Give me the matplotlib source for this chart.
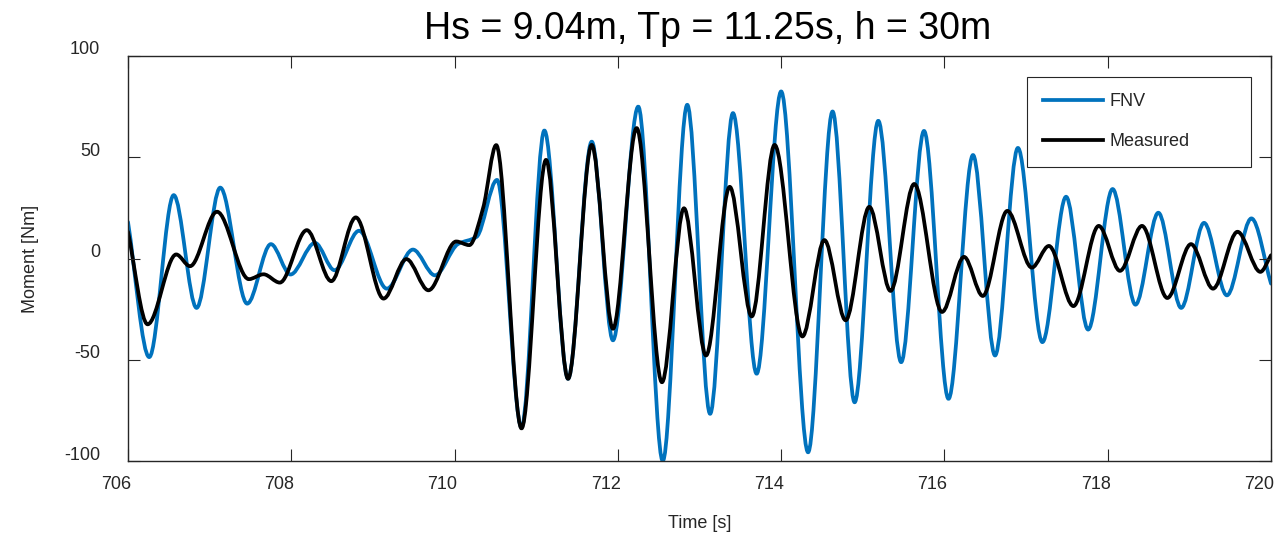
import numpy as np
import matplotlib
matplotlib.use("Agg")
import matplotlib.pyplot as plt
from matplotlib.path import Path
from matplotlib.patches import PathPatch
from matplotlib.lines import Line2D
from matplotlib.transforms import ScaledTranslation

plt.rcParams["axes.unicode_minus"] = False

# peaks / troughs (time [s], moment [Nm])
fnv_t = [706.00, 706.26, 706.56, 706.84, 707.13, 707.46, 707.75, 707.99, 708.29, 708.53,
         708.83, 709.17, 709.49, 709.76, 710.04, 710.27, 710.52, 710.82, 711.10, 711.39,
         711.68, 711.94, 712.25, 712.55, 712.85, 713.13, 713.41, 713.70, 714.00, 714.33,
         714.63, 714.90, 715.19, 715.47, 715.75, 716.05, 716.35, 716.62, 716.90, 717.20,
         717.49, 717.76, 718.06, 718.34, 718.62, 718.90, 719.18, 719.46, 719.76, 720.00]
fnv_v = [18.0, -48.7, 31.3, -24.4, 35.0, -22.3, 7.1, -7.9, 7.7, -5.8,
         13.7, -14.9, 4.4, -8.3, 7.1, 10.7, 38.8, -83.4, 63.2, -59.4,
         57.7, -40.4, 75.0, -100.0, 75.9, -76.7, 71.8, -56.9, 82.5, -95.7,
         72.6, -71.0, 68.0, -51.2, 63.0, -69.3, 51.1, -47.9, 54.6, -41.3,
         30.5, -35.1, 34.3, -22.8, 22.6, -24.4, 17.6, -18.2, 19.8, -12.4]

meas_t = [706.00, 706.24, 706.59, 706.76, 707.09, 707.48, 707.66, 707.86, 708.19, 708.49,
          708.79, 709.13, 709.41, 709.68, 710.02, 710.18, 710.35, 710.51, 710.82, 711.12,
          711.39, 711.68, 711.94, 712.23, 712.54, 712.81, 713.08, 713.37, 713.64, 713.92,
          714.26, 714.53, 714.79, 715.08, 715.34, 715.63, 715.97, 716.24, 716.47, 716.77,
          717.07, 717.28, 717.58, 717.89, 718.15, 718.42, 718.73, 719.02, 719.29, 719.59,
          719.87, 720.00]
meas_v = [13.2, -32.5, 2.0, -3.8, 23.1, -10.2, -7.8, -11.9, 14.0, -11.2,
          20.3, -19.8, -0.3, -15.7, 8.4, 6.6, 25.0, 56.0, -83.9, 48.7,
          -59.4, 56.1, -34.7, 64.4, -61.1, 24.8, -47.9, 35.4, -28.6, 56.1,
          -38.5, 9.1, -30.5, 25.5, -16.0, 36.8, -26.4, 0.8, -18.5, 23.5,
          -4.5, 6.2, -23.5, 16.1, -6.1, 16.1, -19.5, 7.1, -14.9, 13.2,
          -6.6, 1.6]

x_ticks = [706, 708, 710, 712, 714, 716, 718, 720]
y_ticks = [-100, -50, 0, 50, 100]

BLUE = "#0072BD"
DARK = "#262626"
FONT = "Liberation Sans"
LW = 2.7


def smooth_path(t, v):
    # monotone cubic (Fritsch-Carlson) slopes, drawn as bezier segments
    t = np.asarray(t, float)
    v = np.asarray(v, float)
    h = np.diff(t)
    d = np.diff(v) / h
    m = np.zeros_like(v)
    for k in range(1, len(v) - 1):
        if d[k - 1] * d[k] > 0:
            w1 = 2 * h[k] + h[k - 1]
            w2 = h[k] + 2 * h[k - 1]
            m[k] = (w1 + w2) / (w1 / d[k - 1] + w2 / d[k])
    m[0] = d[0]
    m[-1] = d[-1]
    verts = [(t[0], v[0])]
    codes = [Path.MOVETO]
    for k in range(len(h)):
        verts += [(t[k] + h[k] / 3, v[k] + m[k] * h[k] / 3),
                  (t[k + 1] - h[k] / 3, v[k + 1] - m[k + 1] * h[k] / 3),
                  (t[k + 1], v[k + 1])]
        codes += [Path.CURVE4] * 3
    return Path(verts, codes)


fig = plt.figure(figsize=(12.79, 5.35), dpi=100)
ax = fig.add_axes([128 / 1279, 74 / 535, 1143 / 1279, 405 / 535])

ax.add_patch(PathPatch(smooth_path(fnv_t, fnv_v), fill=False, edgecolor=BLUE, lw=LW,
                       capstyle="round", joinstyle="round"))
ax.add_patch(PathPatch(smooth_path(meas_t, meas_v), fill=False, edgecolor="black", lw=LW,
                       capstyle="round", joinstyle="round"))

ax.set_xlim(706, 720)
ax.set_ylim(-100, 100)
ax.set_xticks(x_ticks)
ax.set_yticks(y_ticks)
for sp in ax.spines.values():
    sp.set_color(DARK)
    sp.set_linewidth(1.0)
ax.tick_params(direction="in", length=8.5, width=0.8, color=DARK, labelcolor=DARK,
               top=True, right=True, labelsize=13)
ax.tick_params(axis="x", pad=11)
ax.tick_params(axis="y", pad=20)
for lab in ax.get_xticklabels() + ax.get_yticklabels():
    lab.set_fontfamily(FONT)
for lab in ax.get_yticklabels():
    lab.set_transform(lab.get_transform() + ScaledTranslation(0, 0.08, fig.dpi_scale_trans))
for lab in ax.get_xticklabels():
    lab.set_transform(lab.get_transform() + ScaledTranslation(-0.12, 0, fig.dpi_scale_trans))

ax.set_xlabel("Time [s]", fontsize=13, family=FONT, color=DARK, labelpad=16)
ax.set_ylabel("Moment [Nm]", fontsize=13, family=FONT, color=DARK, labelpad=18)
ax.set_title("Hs = 9.04m, Tp = 11.25s, h = 30m", fontsize=27, family=FONT,
             color="black", pad=12, x=0.507)

handles = [Line2D([], [], color=BLUE, lw=LW), Line2D([], [], color="black", lw=LW)]
leg = ax.legend(handles, ["FNV", "Measured"], loc="upper left",
                bbox_to_anchor=(0.7865, 0.849, 0.196, 0.1), mode="expand",
                prop={"family": FONT, "size": 13}, handlelength=3.3, handletextpad=0.35,
                labelspacing=1.3, borderpad=0.9, borderaxespad=0, fancybox=False,
                framealpha=1, edgecolor=DARK)
leg.get_frame().set_linewidth(0.8)
for txt in leg.get_texts():
    txt.set_color(DARK)

fig.savefig("out.png", dpi=100)
